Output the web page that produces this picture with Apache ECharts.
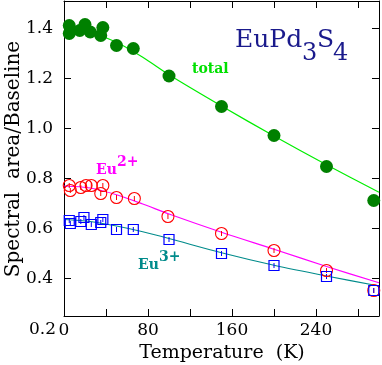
<!DOCTYPE html>
<html><head><meta charset="utf-8">
<script src="https://cdn.jsdelivr.net/npm/echarts@6/dist/echarts.min.js"></script>
<style>html,body{margin:0;padding:0;background:#fff}#c{width:382px;height:365px}</style>
</head><body><div id="c"></div>
<script>
// Data
const tempTotal = [5, 5, 15, 20, 25, 35, 37, 50, 66, 100, 150, 200, 250, 295];
const areaTotal = [1.412, 1.38, 1.392, 1.416, 1.386, 1.372, 1.404, 1.332, 1.32, 1.21, 1.088, 0.972, 0.848, 0.712];
const tempEu2 = [5, 6, 16, 21, 26, 35, 37, 50, 67, 99, 150, 200, 250, 295];
const areaEu2 = [0.772, 0.752, 0.764, 0.772, 0.772, 0.74, 0.772, 0.724, 0.72, 0.648, 0.58, 0.512, 0.432, 0.352];
const tempEu3 = [5, 6, 16, 19, 26, 35, 37, 50, 66, 100, 150, 200, 250, 295];
const areaEu3 = [0.632, 0.62, 0.628, 0.644, 0.616, 0.624, 0.636, 0.596, 0.596, 0.556, 0.5, 0.452, 0.408, 0.352];
const errEu = 0.01;
const fitT = [0, 25, 50, 75, 100, 150, 200, 250, 300];
const fitTotal = [1.405, 1.385, 1.345, 1.285, 1.215, 1.09, 0.97, 0.855, 0.745];
const fitEu2 = [0.77, 0.762, 0.735, 0.698, 0.658, 0.585, 0.517, 0.448, 0.383];
const fitEu3 = [0.636, 0.628, 0.61, 0.587, 0.56, 0.503, 0.453, 0.41, 0.37];
const yTicks = [0.4, 0.6, 0.8, 1.0, 1.2, 1.4];
const xLabels = [0, 80, 160, 240];

const FONT = 'DejaVu Serif';
const zip = (a, b) => a.map((v, i) => [v, b[i]]);

function errSeries(t, v, color) {
  return {
    type: 'custom', xAxisIndex: 0, yAxisIndex: 0, z: 4,
    data: zip(t, v),
    renderItem: function (params, api) {
      const x = api.value(0), y = api.value(1);
      const p1 = api.coord([x, y - errEu]), p2 = api.coord([x, y + errEu]);
      return { type: 'line', shape: { x1: p1[0], y1: p1[1], x2: p2[0], y2: p2[1] },
        style: { stroke: color, lineWidth: 1 } };
    }
  };
}
// text placed by its baseline (bottom = baseline + descent)
function txt(s, x, base, size, color, bold, align) {
  return { type: 'text', x: x, y: base + Math.round(size * 0.24), z: 10,
    style: { text: s, font: (bold ? 'bold ' : '') + size + 'px "DejaVu Serif"', fill: color,
      align: align || 'left', verticalAlign: 'bottom' } };
}

const chart = echarts.init(document.getElementById('c'), null, { renderer: 'canvas' });
const axisCommon = {
  type: 'value', min: 0, max: 300, interval: 40,
  axisLine: { show: true, lineStyle: { color: '#000', width: 1 } },
  axisTick: { show: true, inside: true, length: 7, lineStyle: { color: '#000' } },
  splitLine: { show: false }
};
chart.setOption({
  animation: false,
  grid: { left: 64, top: 1, width: 317, height: 315, containLabel: false },
  xAxis: [
    Object.assign({}, axisCommon, {
      position: 'bottom',
      axisLabel: { show: true, margin: 6, fontFamily: FONT, fontSize: 17, color: '#000',
        formatter: v => (xLabels.indexOf(v) >= 0 ? String(v) : '') }
    }),
    Object.assign({}, axisCommon, { position: 'top', axisLabel: { show: false } })
  ],
  yAxis: [
    { type: 'value', min: 0.25, max: 1.51, position: 'left',
      axisLine: { show: true, onZero: false, lineStyle: { color: '#000', width: 1 } },
      axisTick: { show: true, inside: true, length: 7, customValues: yTicks, lineStyle: { color: '#000' } },
      axisLabel: { show: true, margin: 11, customValues: yTicks, fontFamily: FONT, fontSize: 17, color: '#000',
        formatter: v => v.toFixed(1) },
      splitLine: { show: false } },
    { type: 'value', min: 0.25, max: 1.51, position: 'right',
      axisLine: { show: true, onZero: false, lineStyle: { color: '#000', width: 1 } },
      axisTick: { show: true, inside: true, length: 7, customValues: yTicks, lineStyle: { color: '#000' } },
      axisLabel: { show: false }, splitLine: { show: false } }
  ],
  series: [
    { type: 'line', data: zip(fitT, fitTotal), smooth: 0.3, showSymbol: false, symbol: 'none',
      lineStyle: { color: '#00ee00', width: 1.2 }, z: 2 },
    { type: 'line', data: zip(fitT, fitEu2), smooth: 0.3, showSymbol: false, symbol: 'none',
      lineStyle: { color: '#ff00ff', width: 1.2 }, z: 2 },
    { type: 'line', data: zip(fitT, fitEu3), smooth: 0.3, showSymbol: false, symbol: 'none',
      lineStyle: { color: '#008b8b', width: 1.2 }, z: 2 },
    { type: 'scatter', data: zip(tempTotal, areaTotal), symbol: 'circle', symbolSize: 13,
      itemStyle: { color: '#008000', opacity: 1 }, z: 5 },
    errSeries(tempEu2, areaEu2, '#ff0000'),
    errSeries(tempEu3, areaEu3, '#0000ff'),
    { type: 'scatter', data: zip(tempEu2, areaEu2), symbol: 'circle', symbolSize: 12,
      itemStyle: { color: 'rgba(0,0,0,0)', borderColor: '#ff0000', borderWidth: 1.1, opacity: 1 }, z: 5 },
    { type: 'scatter', data: zip(tempEu3, areaEu3), symbol: 'rect', symbolSize: 10,
      itemStyle: { color: 'rgba(0,0,0,0)', borderColor: '#0000ff', borderWidth: 1.2, opacity: 1 }, z: 5 }
  ],
  graphic: [
    { type: 'text', x: 56, y: 330, style: { text: '0.2', font: '17px "DejaVu Serif"', fill: '#000', align: 'right', verticalAlign: 'middle' } },
    { type: 'text', x: 222, y: 353, style: { text: 'Temperature  (K)', font: '19px "DejaVu Serif"', fill: '#000', align: 'center', verticalAlign: 'middle' } },
    { type: 'text', x: 14, y: 159, rotation: Math.PI / 2, style: { text: 'Spectral  area/Baseline', font: '20px "DejaVu Serif"', fill: '#000', align: 'center', verticalAlign: 'middle' } },
    txt('EuPd', 235, 47, 25, '#1a1a8c', false),
    txt('3', 302, 60, 24, '#1a1a8c', false),
    txt('S', 317, 47, 25, '#1a1a8c', false),
    txt('4', 333, 60, 24, '#1a1a8c', false),
    txt('total', 192, 73, 14, '#00e000', true),
    txt('Eu', 96, 174, 14, '#ff00ff', true),
    txt('2+', 117, 166, 14, '#ff00ff', true),
    txt('Eu', 138, 269, 14, '#008b8b', true),
    txt('3+', 159, 261, 14, '#008b8b', true)
  ]
});
</script></body></html>
